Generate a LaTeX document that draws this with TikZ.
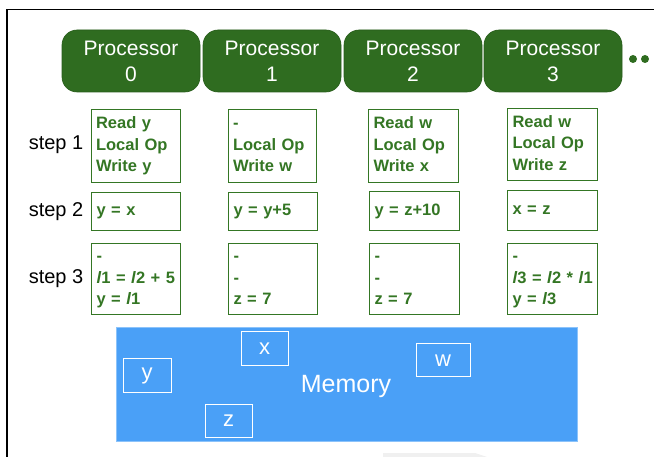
\documentclass[tikz,border=0pt]{standalone}
\usepackage{fontspec}
\setmainfont{Liberation Sans}
\definecolor{procgreen}{RGB}{47,108,32}
\definecolor{txtgreen}{RGB}{52,118,36}
\definecolor{memblue}{RGB}{74,160,247}
\definecolor{memedge}{RGB}{140,195,250}
\begin{document}
\begin{tikzpicture}[x=1pt,y=-1pt,
  proc/.style={fill=procgreen,draw=procgreen!85!black,line width=0.6pt,rounded corners=15pt,
    minimum width=138pt,minimum height=62pt,inner sep=0pt,text=white,align=center,
    font=\fontsize{21}{26}\selectfont},
  stepbox/.style={draw=txtgreen,line width=1pt,inner xsep=5pt,inner ysep=2pt,align=left,
    text=txtgreen,font=\bfseries\fontsize{16.5}{21.5}\selectfont,anchor=north west,
    execute at begin node=\strut,execute at end node=\strut},
  steplabel/.style={font=\fontsize{20}{23}\selectfont,inner sep=0pt},
  memvar/.style={draw=white,line width=1pt,text=white,inner sep=0pt,
    font=\fontsize{22}{26}\selectfont},
  dot/.style={circle,fill=procgreen,minimum size=8pt,inner sep=0pt}]
\useasboundingbox (0,0) rectangle (654,457);
% frame lines
\draw[line width=1.6pt] (7,457) -- (7,9.5) -- (654,9.5);
% faint shape at bottom
\fill[black!6] (383,453) -- (475,453) -- (487,457) -- (383,457) -- cycle;
% processors
\node[proc] (p0) at (131,61) {Processor\\0};
\node[proc] (p1) at (272,61) {Processor\\1};
\node[proc] (p2) at (413,61) {Processor\\2};
\node[proc] (p3) at (553,61) {Processor\\3};
\node[dot] (d1) at (633,59) {};
\node[dot] (d2) at (645,59) {};
% step labels
\node[steplabel] (s1) at (56,145) {step 1};
\node[steplabel] (s2) at (56,212) {step 2};
\node[steplabel] (s3) at (56,279) {step 3};
% step 1 boxes
\node[stepbox,text width=79pt,minimum height=73pt] (a1) at (90.5,109) {Read y\\Local Op\\Write y};
\node[stepbox,text width=78pt,minimum height=73pt] (b1) at (227.5,109) {-\\Local Op\\Write w};
\node[stepbox,text width=80pt,minimum height=73pt] (c1) at (368,109) {Read w\\Local Op\\Write x};
\node[stepbox,text width=80pt,minimum height=72pt] (e1) at (507,108) {Read w\\Local Op\\Write z};
% step 2 boxes
\node[stepbox,text width=79pt,minimum height=38pt] (a2) at (91,192) {y = x};
\node[stepbox,text width=79pt,minimum height=38pt] (b2) at (228,192) {y = y+5};
\node[stepbox,text width=80pt,minimum height=39pt] (c2) at (369,191) {y = z+10};
\node[stepbox,text width=80pt,minimum height=40pt] (e2) at (507,190) {x = z};
% step 3 boxes
\node[stepbox,text width=79pt,minimum height=71pt] (a3) at (91,243) {-\\\mbox{\textit{l}1 = \textit{l}2 + 5}\\y = \textit{l}1};
\node[stepbox,text width=79pt,minimum height=71pt] (b3) at (228,243) {-\\-\\z = 7};
\node[stepbox,text width=80pt,minimum height=71pt] (c3) at (369,243) {-\\-\\z = 7};
\node[stepbox,text width=80pt,minimum height=71pt] (e3) at (507,243) {-\\\mbox{\textit{l}3 = \textit{l}2 * \textit{l}1}\\y = \textit{l}3};
% memory
\node[fill=memblue,draw=memedge,line width=0.8pt,minimum width=461pt,minimum height=114pt,
  inner sep=0pt,anchor=north west] (mem) at (116,327) {};
\node[text=white,font=\fontsize{25}{29}\selectfont,inner sep=0pt] (memlabel) at (346,386) {Memory};
\node[memvar,minimum width=48pt,minimum height=33pt] (vy) at (147,375.5) {y};
\node[memvar,minimum width=47pt,minimum height=34pt] (vx) at (264.5,349) {x};
\node[memvar,minimum width=54pt,minimum height=33pt] (vw) at (443,360.5) {w};
\node[memvar,minimum width=47pt,minimum height=33pt] (vz) at (228.5,420.5) {z};
\end{tikzpicture}
\end{document}
